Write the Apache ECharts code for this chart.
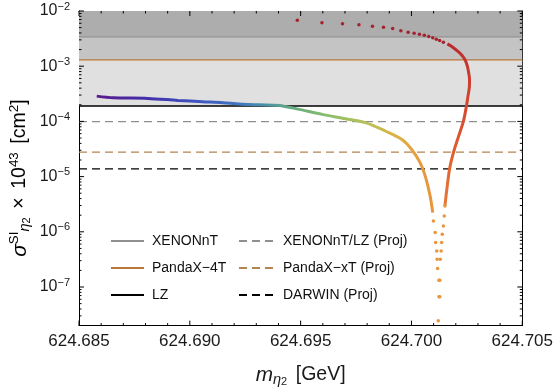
<!DOCTYPE html>
<html lang="en">
<head>
<meta charset="UTF-8">
<title>eta2 cross section</title>
<style>html,body{margin:0;padding:0;background:#fff}</style>
</head>
<body>
<div id="main" style="width:556px;height:392px;"></div>
<script src="https://cdn.jsdelivr.net/npm/echarts@6/dist/echarts.min.js"></script>
<script>
// axis ranges and ticks
var xMin = 624.685, xMax = 624.705;
var xTickStep = 0.001;
var yMin = 2e-8, yMax = 1e-2;
var yMajorTicks = [1e-7, 1e-6, 1e-5, 1e-4, 1e-3, 1e-2];
var yDecades = [-8, -7, -6, -5, -4, -3];

// current limits (solid) and projections (dashed)
var limitNames = ['XENONnT', 'PandaX\u22124T', 'LZ'];
var limitValues = [3.4e-3, 1.3e-3, 1.9e-4];
var projNames = ['XENONnT/LZ (Proj)', 'PandaX\u2212xT (Proj)', 'DARWIN (Proj)'];
var projValues = [9.9e-5, 2.77e-5, 1.38e-5];

// dense left branch of the curve
var leftX = [624.68580, 624.68654, 624.68811, 624.68946, 624.69058, 624.69148, 624.69223, 624.69313, 624.69403, 624.69493,
             624.69597, 624.69702, 624.69792, 624.69882, 624.69957, 624.70001, 624.70039, 624.70062, 624.70084, 624.70096];
var leftY = [2.87e-4, 2.68e-4, 2.61e-4, 2.40e-4, 2.27e-4, 2.18e-4, 2.06e-4, 2.00e-4, 1.95e-4, 1.65e-4,
             1.34e-4, 1.12e-4, 9.5e-5, 6.7e-5, 4.7e-5, 3.1e-5, 1.79e-5, 1.03e-5, 4.5e-6, 2.23e-6];
// sparse points near the dip
var dipX = [624.70099, 624.70107, 624.70109, 624.70114, 624.70116, 624.70118, 624.70124, 624.70124, 624.70121,
            624.70128, 624.70128, 624.70130, 624.70134, 624.70136, 624.70139, 624.70144, 624.70148, 624.70151];
var dipY = [1.57e-6, 9.7e-7, 6.4e-7, 4.5e-7, 3.2e-7, 2.17e-7, 1.33e-7, 6.65e-8, 2.45e-8,
            1.33e-7, 6.65e-8, 3.2e-7, 4.5e-7, 6.4e-7, 9.06e-7, 1.28e-6, 1.94e-6, 2.94e-6];
// right branch going up
var rightX = [624.70151, 624.70156, 624.70172, 624.70190, 624.70211, 624.70234, 624.70248, 624.70255, 624.70261, 624.70262,
              624.70257, 624.70250, 624.70241, 624.70231, 624.70219, 624.70207, 624.70192, 624.70177, 624.70162];
var rightY = [2.94e-6, 4.46e-6, 1.38e-5, 2.77e-5, 5.14e-5, 9.88e-5, 1.89e-4, 2.87e-4, 4.07e-4, 5.75e-4,
              8.12e-4, 1.073e-3, 1.322e-3, 1.517e-3, 1.718e-3, 1.898e-3, 2.115e-3, 2.338e-3, 2.541e-3];
// sparse points along the top
var topX = [624.70144, 624.70127, 624.70112, 624.70096, 624.70078, 624.70058, 624.70036, 624.70012, 624.69985,
            624.69952, 624.69915, 624.69874, 624.69824, 624.69763, 624.69689, 624.69596, 624.69485];
var topY = [2.716e-3, 2.915e-3, 3.078e-3, 3.264e-3, 3.445e-3, 3.636e-3, 3.791e-3, 3.952e-3, 4.120e-3,
            4.366e-3, 4.805e-3, 5.072e-3, 5.289e-3, 5.607e-3, 5.846e-3, 6.095e-3, 6.79e-3];

var FONT = 'Liberation Sans';
var W = 556, H = 392;
var GRID = { left: 79, right: 32, top: 11, bottom: 65 };
function zip(a, b) { return a.map(function (v, i) { return [v, b[i]]; }); }

// frame ticks as short segments in data space (length converted from pixels via the grid size)
var MAJ = 5, MIN = 2.5;
var xPerPx = (xMax - xMin) / (W - GRID.left - GRID.right);
var decPerPx = Math.log10(yMax / yMin) / (H - GRID.top - GRID.bottom);
var tickData = [];
function addSeg(a, b) { tickData.push(a, b, ['-', '-']); }
for (var k = 0; k <= 20; k++) {
    var xv = xMin + k * xTickStep;
    var L = k % 5 === 0 ? MAJ : MIN;
    addSeg([xv, yMin], [xv, yMin * Math.pow(10, L * decPerPx)]);
    addSeg([xv, yMax], [xv, yMax / Math.pow(10, L * decPerPx)]);
}
var yTickVals = yMajorTicks.map(function (v) { return [v, MAJ]; });
yDecades.forEach(function (d) {
    for (var m = 2; m <= 9; m++) {
        var v = m * Math.pow(10, d);
        if (v > yMin * 1.01 && v < yMax) yTickVals.push([v, MIN]);
    }
});
yTickVals.forEach(function (t) {
    addSeg([xMin, t[0]], [xMin + t[1] * xPerPx, t[0]]);
    addSeg([xMax, t[0]], [xMax - t[1] * xPerPx, t[0]]);
});

function makeRich(s) {
    return {
        b: { fontSize: 16 * s, lineHeight: 20 * s, fontFamily: FONT, color: '#1a1a1a' },
        i: { fontSize: 17 * s, lineHeight: 20 * s, fontStyle: 'italic', fontFamily: FONT, color: '#1a1a1a' },
        sup: { fontSize: 11 * s, lineHeight: 11 * s, verticalAlign: 'top', fontFamily: FONT, color: '#1a1a1a' },
        sub: { fontSize: 12 * s, lineHeight: 11 * s, verticalAlign: 'bottom', fontStyle: 'italic', fontFamily: FONT, color: '#1a1a1a' },
        subsub: { fontSize: 9 * s, lineHeight: 4 * s, verticalAlign: 'bottom', fontFamily: FONT, color: '#1a1a1a' },
        sp: { fontSize: 16 * s, width: 7 * s }
    };
}
var rich = makeRich(1);
var richTitle = makeRich(1.22);

function yAx(pos, labels) {
    return {
        type: 'log', min: yMin, max: yMax, position: pos,
        axisLine: { show: true, lineStyle: { color: '#000', width: 1 } },
        axisTick: { show: false },
        minorTick: { show: false },
        axisLabel: labels ? {
            show: true, customValues: yMajorTicks, margin: 9, rich: rich,
            formatter: function (v) {
                var e = Math.round(Math.log10(v));
                return '{b|10}{sup|\u2212' + (-e) + '}';
            }
        } : { show: false },
        splitLine: { show: false }
    };
}
function xAx(pos, labels) {
    return {
        type: 'value', min: xMin, max: xMax, interval: 0.005, position: pos,
        axisLine: { show: true, lineStyle: { color: '#000', width: 1 } },
        axisTick: { show: false },
        minorTick: { show: false },
        axisLabel: labels ? {
            show: true, fontSize: 17, fontFamily: FONT, color: '#1a1a1a', margin: 7,
            formatter: function (v) { return v.toFixed(3); }
        } : { show: false },
        splitLine: { show: false }, minorSplitLine: { show: false },
        name: labels ? '{i|m}{sub|\u03b7}{subsub|2}{sp| }{b|[GeV]}' : '',
        nameLocation: 'middle', nameGap: 37,
        nameTextStyle: { rich: richTitle }
    };
}

var series = [];
series.push({
    name: 'shade', type: 'line', data: [], z: 0, silent: true,
    markArea: {
        silent: true,
        data: [
            [{ yAxis: limitValues[0], itemStyle: { color: '#adadad' } }, { yAxis: yMax }],
            [{ yAxis: limitValues[1], itemStyle: { color: '#c4c4c4' } }, { yAxis: limitValues[0] }],
            [{ yAxis: limitValues[2], itemStyle: { color: '#e0e0e0' } }, { yAxis: limitValues[1] }]
        ]
    }
});
var limitColors = ['#8f8f8f', '#bb773a', '#000'];
var projColors = ['#8f8f8f', '#b48450', '#000'];
limitNames.forEach(function (n, i) {
    series.push({
        name: n, type: 'line', symbol: 'none', silent: true, z: 2,
        data: [[xMin, limitValues[i]], [xMax, limitValues[i]]],
        lineStyle: { color: limitColors[i], width: i === 2 ? 1.5 : 1.3 },
        itemStyle: { color: limitColors[i] }
    });
});
projNames.forEach(function (n, i) {
    series.push({
        name: n, type: 'line', symbol: 'none', silent: true, z: 2,
        data: [[xMin, projValues[i]], [xMax, projValues[i]]],
        lineStyle: { color: projColors[i], width: 1.3, type: [8, 5] },
        itemStyle: { color: projColors[i] }
    });
});
series.push({
    name: 'left', type: 'line', symbol: 'none', z: 4, silent: true, smooth: 0.3,
    data: zip(leftX, leftY),
    lineStyle: {
        width: 3,
        color: new echarts.graphic.LinearGradient(0, 0, 1, 0, [
            { offset: 0, color: '#5a1a8c' },
            { offset: 0.16, color: '#4230aa' },
            { offset: 0.31, color: '#3d58c2' },
            { offset: 0.43, color: '#3f78c0' },
            { offset: 0.5, color: '#4a92a4' },
            { offset: 0.58, color: '#66ab82' },
            { offset: 0.69, color: '#8cbf6a' },
            { offset: 0.8, color: '#b8c155' },
            { offset: 0.88, color: '#d9b445' },
            { offset: 0.94, color: '#e6a03f' },
            { offset: 1, color: '#e8923a' }
        ])
    }
});
series.push({
    name: 'right', type: 'line', symbol: 'none', z: 4, silent: true, smooth: 0.3,
    data: zip(rightX, rightY),
    lineStyle: {
        width: 3,
        color: new echarts.graphic.LinearGradient(0, 0, 0, 1, [
            { offset: 0, color: '#b3282c' },
            { offset: 0.1, color: '#c3352d' },
            { offset: 0.35, color: '#d2452f' },
            { offset: 0.7, color: '#e0612f' },
            { offset: 1, color: '#e87a37' }
        ])
    }
});
series.push({
    name: 'dip', type: 'scatter', symbolSize: 3.5, z: 4, silent: true,
    data: zip(dipX, dipY), itemStyle: { color: '#e9963c', opacity: 1 }
});
series.push({
    name: 'top', type: 'scatter', symbolSize: 3.5, z: 4, silent: true,
    data: zip(topX, topY), itemStyle: { color: '#a5222c', opacity: 1 }
});
series.push({
    name: 'ticks', type: 'line', symbol: 'none', z: 6, silent: true, clip: false,
    connectNulls: false, data: tickData,
    lineStyle: { color: '#000', width: 1 }
});

var legendBase = {
    orient: 'vertical', top: 234, padding: 0, itemHeight: 14, itemGap: 13, selectedMode: false,
    itemStyle: { opacity: 0 },
    textStyle: { fontSize: 14, color: '#111', padding: [0, 0, 0, 3] }
};

var chart = echarts.init(document.getElementById('main'));
chart.setOption({
    animation: false,
    backgroundColor: '#fff',
    textStyle: { fontFamily: FONT },
    grid: { left: GRID.left, right: GRID.right, top: GRID.top, bottom: GRID.bottom, containLabel: false },
    xAxis: [xAx('bottom', true), xAx('top', false)],
    yAxis: [yAx('left', true), yAx('right', false)],
    legend: [
        echarts.util.merge({ data: limitNames, left: 110, itemWidth: 33 }, legendBase),
        echarts.util.merge({ data: projNames, left: 238, itemWidth: 36 }, legendBase)
    ],
    graphic: [{
        type: 'text', x: 20, y: 178, rotation: Math.PI / 2, silent: true,
        style: {
            text: '{i|\u03c3}{sup|SI}{sub|\u03b7}{subsub|2}{sp| }{b|\u00d7}{sp| }{b|10}{sup|43}{sp| }{b|[cm}{sup|2}{b|]}',
            rich: richTitle, align: 'center', verticalAlign: 'middle'
        }
    }],
    series: series
});
</script>
</body>
</html>
